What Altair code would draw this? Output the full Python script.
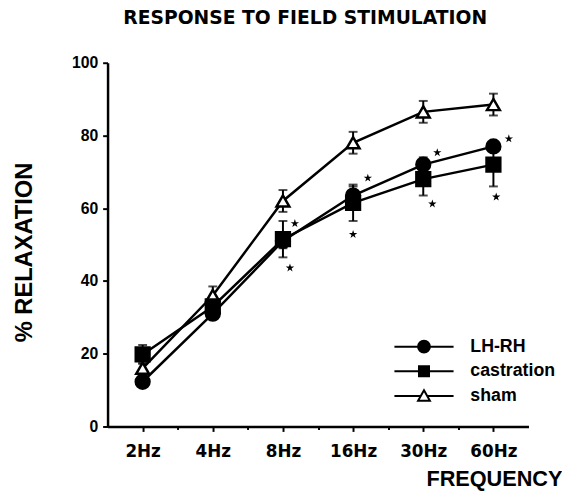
import altair as alt
import pandas as pd

# ---- data ----
freqs = ["2Hz", "4Hz", "8Hz", "16Hz", "30Hz", "60Hz"]
series = ["LH-RH", "castration", "sham"]
lhrh = [12.3, 31.0, 51.0, 63.5, 72.0, 77.0]
lhrh_err = [1.0, 1.5, 2.0, 2.5, 2.0, 1.5]
castration = [19.8, 33.0, 51.5, 61.5, 68.0, 72.0]
castration_err = [2.6, 2.0, 5.0, 5.0, 4.5, 6.0]
sham = [16.0, 36.0, 62.0, 78.0, 86.5, 88.5]
sham_err = [1.5, 2.5, 3.0, 3.0, 3.0, 3.0]

# significance asterisks (x in frequency-index units, y in % relaxation)
star_x = [3.17, 3.10, 4.21, 4.00, 5.20, 5.13, 6.22, 6.04]
star_y = [55.8, 43.6, 68.3, 52.8, 75.3, 61.2, 79.1, 63.1]

rows = []
for name, vals, errs in [("LH-RH", lhrh, lhrh_err),
                         ("castration", castration, castration_err),
                         ("sham", sham, sham_err)]:
    for i, (v, e) in enumerate(zip(vals, errs)):
        rows.append({"series": name, "idx": i + 1, "freq": freqs[i],
                     "val": v, "lo": v - e, "hi": v + e})
df = pd.DataFrame(rows)
stars = pd.DataFrame({"x": star_x, "y": star_y})

labels_js = "[" + ",".join("'" + f + "'" for f in freqs) + "]"

xscale = alt.Scale(domain=[0.5, 6.5], nice=False, zero=False)
yscale = alt.Scale(domain=[0, 100], nice=False)

x_axis = alt.Axis(
    values=[1, 1.5, 2, 2.5, 3, 3.5, 4, 4.5, 5, 5.5, 6],
    labelExpr="datum.value % 1 === 0 ? " + labels_js + "[datum.value - 1] : ''",
    tickSize={"condition": {"test": "datum.value % 1 === 0", "value": 5}, "value": 3},
    labelFont="DejaVu Sans", labelFontWeight="bold", labelFontSize=17,
    labelPadding=12, labelColor="black",
    title="FREQUENCY", titleFont="Liberation Sans", titleFontWeight="bold",
    titleFontSize=22, titleAlign="right", titleX=461, titleY=60,
    titleBaseline="alphabetic", titleColor="black",
)
y_axis = alt.Axis(
    values=list(range(0, 101, 10)),
    labelExpr="datum.value % 20 === 0 ? datum.label : ''",
    tickSize={"condition": {"test": "datum.value % 20 === 0", "value": 5}, "value": 2},
    labelFont="Liberation Sans", labelFontWeight="bold", labelFontSize=16,
    labelPadding=5, labelColor="black",
    title="% RELAXATION", titleFont="Liberation Sans", titleFontWeight="bold",
    titleFontSize=24, titleAngle=270, titleAlign="center", titleBaseline="middle",
    titleX=-84, titleY=192, titleColor="black",
)

base = alt.Chart(df)

lines = base.mark_line(color="black", strokeWidth=2.5).encode(
    x=alt.X("idx:Q", scale=xscale, axis=x_axis),
    y=alt.Y("val:Q", scale=yscale, axis=y_axis),
    detail="series:N",
)

bars = base.mark_rule(color="black", strokeWidth=2).encode(
    x="idx:Q", y="lo:Q", y2="hi:Q")
caps_hi = base.mark_tick(color="black", orient="horizontal", size=9, thickness=2).encode(
    x="idx:Q", y="hi:Q")
caps_lo = base.mark_tick(color="black", orient="horizontal", size=9, thickness=2).encode(
    x="idx:Q", y="lo:Q")

pt_shapes = {"sham": "triangle-up", "LH-RH": "circle", "castration": "square"}
pt_fills = {"sham": "white", "LH-RH": "black", "castration": "black"}
point_layers = []
for name in ["sham", "LH-RH", "castration"]:
    point_layers.append(
        base.transform_filter(alt.datum.series == name).mark_point(
            shape=pt_shapes[name], filled=True, fill=pt_fills[name],
            stroke="black", strokeWidth=2.5, size=170 if name == "sham" else 196,
            opacity=1,
        ).encode(x="idx:Q", y="val:Q")
    )

star_path = ("M0,-1L0.2245,-0.309L0.951,-0.309L0.363,0.118L0.588,0.809L0,0.382"
             "L-0.588,0.809L-0.363,0.118L-0.951,-0.309L-0.2245,-0.309Z")
star_layer = alt.Chart(stars).mark_point(
    shape=star_path, filled=True, color="black", size=80, opacity=1
).encode(x="x:Q", y="y:Q")

legend_paths = [
    "M-5,0H-1M1,0H5M-1,0A1,1 0 1,1 1,0A1,1 0 1,1 -1,0Z",
    "M-5,0H-0.85M0.85,0H5M-0.85,-0.85H0.85V0.85H-0.85Z",
    "M-5,0H-0.55M0.55,0H5M0,-0.95L1,0.8L-1,0.8Z",
]
leg = alt.Legend(
    title=None, orient="none", legendX=312, legendY=279, padding=0,
    symbolSize=144, symbolStrokeWidth=2, symbolStrokeColor="black",
    labelFont="Liberation Sans", labelFontWeight="bold", labelFontSize=18,
    labelColor="black", labelOffset=38, rowPadding=5,
)
legend_layer = base.transform_filter("false").mark_point(
    opacity=1, strokeWidth=2
).encode(
    x="idx:Q", y="val:Q",
    shape=alt.Shape("series:N", scale=alt.Scale(domain=series, range=legend_paths), legend=leg),
    fill=alt.Fill("series:N", scale=alt.Scale(domain=series, range=["black", "black", "white"]), legend=leg),
    stroke=alt.Stroke("series:N", scale=alt.Scale(domain=series, range=["black", "black", "black"]), legend=leg),
)

chart = alt.layer(lines, bars, caps_hi, caps_lo, *point_layers, star_layer, legend_layer).properties(
    width=427, height=369,
    background="white",
    autosize=alt.AutoSizeParams(type="none"),
    padding={"left": 101, "top": 52, "right": 34, "bottom": 68},
    title=alt.Title("RESPONSE TO FIELD STIMULATION", font="DejaVu Sans", fontSize=19,
                    fontWeight="bold", anchor="middle", dx=-13, offset=27,
                    frame="group", color="black"),
).configure_view(stroke=None).configure_axis(
    grid=False, domainColor="black", domainWidth=2.5, tickColor="black", tickWidth=2,
)

chart.save("out.html", embed_options={"renderer": "svg", "actions": False})
